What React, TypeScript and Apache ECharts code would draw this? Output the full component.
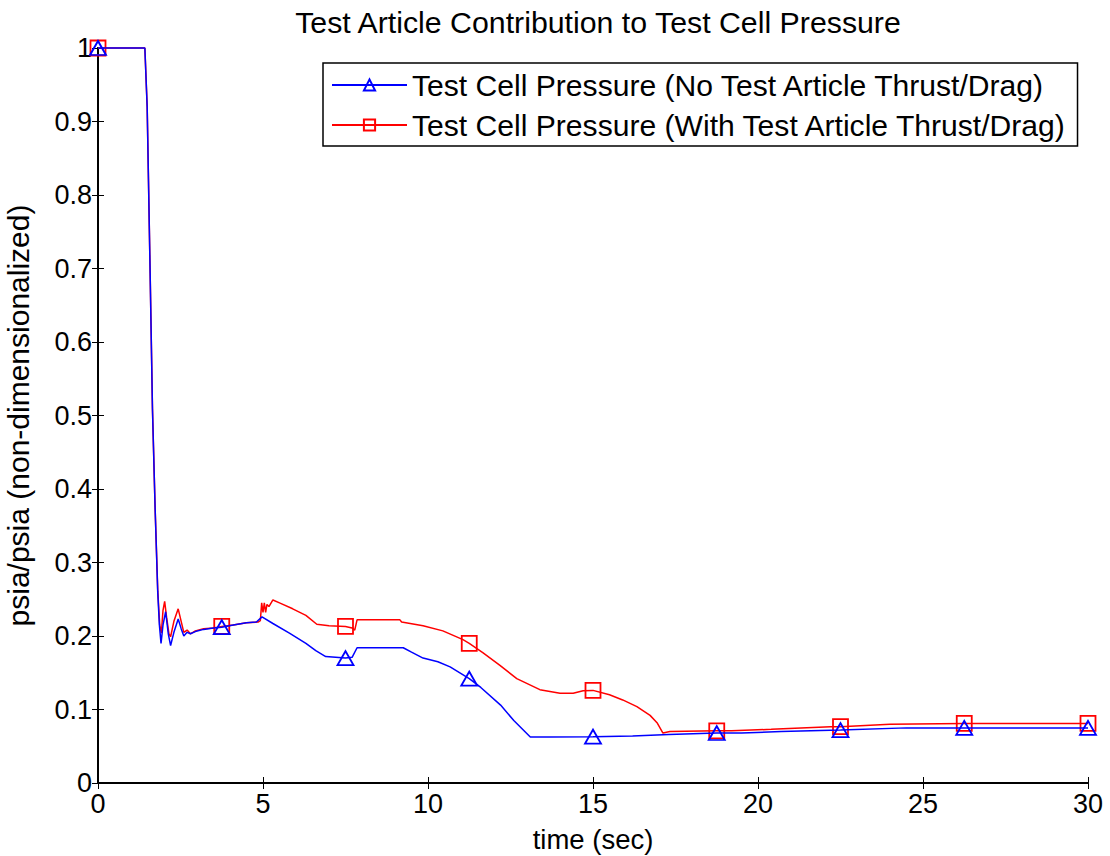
import React, { useEffect, useRef } from "react";
import * as echarts from "echarts";

const chartTitle = "Test Article Contribution to Test Cell Pressure";
const xAxisName = "time (sec)";
const yAxisName = "psia/psia (non-dimensionalized)";
const seriesNames = [
  "Test Cell Pressure (No Test Article Thrust/Drag)",
  "Test Cell Pressure (With Test Article Thrust/Drag)",
];
const markerTimes = [0, 3.75, 7.5, 11.25, 15, 18.75, 22.5, 26.25, 30];

// [time (sec), psia/psia]
const noThrustData: [number, number][] = [
  [0, 1.0], [1.42, 1.0], [1.49, 0.92], [1.58, 0.694], [1.65, 0.51], [1.73, 0.375],
  [1.81, 0.26], [1.86, 0.215], [1.91, 0.19], [1.97, 0.215], [2.05, 0.233],
  [2.13, 0.203], [2.2, 0.187], [2.3, 0.205], [2.43, 0.223], [2.52, 0.21],
  [2.6, 0.2], [2.7, 0.205], [2.8, 0.203], [2.95, 0.206], [3.2, 0.209],
  [3.5, 0.211], [3.75, 0.212], [4.1, 0.215], [4.5, 0.218], [4.8, 0.219],
  [4.97, 0.226], [5.3, 0.217], [5.8, 0.204], [6.3, 0.19], [6.6, 0.18],
  [6.9, 0.172], [7.5, 0.17], [7.7, 0.171], [7.85, 0.184], [9.25, 0.184],
  [9.5, 0.178], [9.85, 0.17], [10.3, 0.165], [10.67, 0.158], [11.25, 0.142],
  [11.6, 0.13], [12.2, 0.106], [12.6, 0.085], [13.1, 0.0626], [13.7, 0.0626],
  [15, 0.063], [16.2, 0.064], [17.3, 0.066], [18.75, 0.068], [19.5, 0.068],
  [20.7, 0.07], [22.5, 0.072], [24.5, 0.075], [26.25, 0.075], [30, 0.075],
];

const withThrustData: [number, number][] = [
  [0, 1.0], [1.42, 1.0], [1.49, 0.92], [1.58, 0.694], [1.65, 0.51], [1.73, 0.375],
  [1.81, 0.263], [1.87, 0.215], [1.92, 0.204], [1.97, 0.235], [2.02, 0.247],
  [2.08, 0.225], [2.15, 0.203], [2.2, 0.199], [2.3, 0.22], [2.43, 0.237],
  [2.52, 0.22], [2.6, 0.205], [2.7, 0.208], [2.8, 0.203], [2.95, 0.207],
  [3.2, 0.21], [3.5, 0.211], [3.75, 0.213], [4.1, 0.215], [4.5, 0.218],
  [4.85, 0.219], [4.92, 0.221], [4.96, 0.245], [5.0, 0.232], [5.04, 0.245],
  [5.08, 0.232], [5.12, 0.243], [5.18, 0.24], [5.3, 0.249], [5.5, 0.245],
  [5.9, 0.237], [6.3, 0.228], [6.63, 0.216], [7.0, 0.214], [7.5, 0.213],
  [7.7, 0.211], [7.78, 0.208], [7.85, 0.222], [9.15, 0.222], [9.2, 0.219],
  [9.85, 0.214], [10.45, 0.207], [11.06, 0.195], [11.25, 0.19], [11.67, 0.177],
  [12.18, 0.16], [12.69, 0.142], [13.39, 0.127], [14.0, 0.122], [14.4, 0.122],
  [14.7, 0.1255], [15, 0.126], [15.5, 0.12], [15.9, 0.113], [16.33, 0.104],
  [16.73, 0.092], [16.94, 0.082], [17.12, 0.068], [17.33, 0.07], [18.75, 0.071],
  [19.2, 0.071], [20.4, 0.073], [22.2, 0.0766], [22.5, 0.0766], [24, 0.08],
  [26.25, 0.081], [30, 0.081],
];

const xTicks = { min: 0, max: 30, interval: 5 };
const yTicks = { min: 0, max: 1, interval: 0.1 };

const FONT = "'Liberation Sans', Arial, Helvetica, sans-serif";

function withMarkers(data: [number, number][], symbol: string) {
  return data.map(([t, v]) => ({
    value: [t, v],
    symbol: markerTimes.includes(t) ? symbol : "none",
  }));
}

export default function App() {
  const ref = useRef<HTMLDivElement>(null);
  useEffect(() => {
    document.body.style.margin = "0";
    if (!ref.current) return;
    const chart = echarts.init(ref.current, null, { renderer: "svg" });
    const axisCommon = {
      type: "value" as const,
      axisLine: { show: true, lineStyle: { color: "#000", width: 2 } },
      axisTick: { show: true, inside: true, length: 6, lineStyle: { color: "#000", width: 1 } },
      splitLine: { show: false },
    };
    chart.setOption({
      animation: false,
      backgroundColor: "#fff",
      title: {
        text: chartTitle,
        left: 593,
        textAlign: "center",
        top: 2,
        textStyle: { fontFamily: FONT, fontSize: 30.3, fontWeight: "normal", color: "#000" },
      },
      grid: {
        left: 98,
        right: 22,
        top: 48,
        bottom: 73,
        containLabel: false,
        outerBoundsMode: "none",
      },
      legend: {
        orient: "vertical",
        left: 323,
        top: 63,
        width: 780,
        padding: [6, 10, 5, 8],
        backgroundColor: "#fff",
        borderColor: "#000",
        borderWidth: 1.5,
        itemWidth: 75,
        itemHeight: 14,
        itemGap: 8,
        textStyle: { fontFamily: FONT, fontSize: 30.1, color: "#000", lineHeight: 32 },
        data: seriesNames,
      },
      xAxis: [
        {
          ...axisCommon,
          ...xTicks,
          position: "bottom",
          name: xAxisName,
          nameLocation: "middle",
          nameGap: 42,
          nameTextStyle: { fontFamily: FONT, fontSize: 27.5, color: "#000" },
          axisLabel: { fontFamily: FONT, fontSize: 27, color: "#000", margin: 7 },
        },
        {
          ...axisCommon,
          ...xTicks,
          position: "top",
          axisLabel: { show: false },
        },
      ],
      yAxis: [
        {
          ...axisCommon,
          ...yTicks,
          position: "left",
          name: yAxisName,
          nameLocation: "middle",
          nameGap: 65,
          nameTextStyle: { fontFamily: FONT, fontSize: 30, color: "#000" },
          axisLabel: { fontFamily: FONT, fontSize: 27, color: "#000", margin: 6 },
        },
        {
          ...axisCommon,
          ...yTicks,
          position: "right",
          axisLabel: { show: false },
        },
      ],
      series: [
        {
          name: seriesNames[0],
          type: "line",
          xAxisIndex: 0,
          yAxisIndex: 0,
          data: withMarkers(noThrustData, "triangle"),
          symbol: "triangle",
          symbolSize: [16, 14],
          showSymbol: true,
          showAllSymbol: true,
          clip: false,
          lineStyle: { color: "#0000ff", width: 1.5 },
          itemStyle: { color: "rgba(255,255,255,0)", borderColor: "#0000ff", borderWidth: 1.8 },
          z: 3,
        },
        {
          name: seriesNames[1],
          type: "line",
          xAxisIndex: 0,
          yAxisIndex: 0,
          data: withMarkers(withThrustData, "rect"),
          symbol: "rect",
          symbolSize: 15,
          showSymbol: true,
          showAllSymbol: true,
          clip: false,
          lineStyle: { color: "#ff0000", width: 1.5 },
          itemStyle: { color: "rgba(255,255,255,0)", borderColor: "#ff0000", borderWidth: 1.8 },
          z: 2,
        },
      ],
    });
    return () => chart.dispose();
  }, []);
  return <div ref={ref} style={{ width: 1110, height: 856 }} />;
}
